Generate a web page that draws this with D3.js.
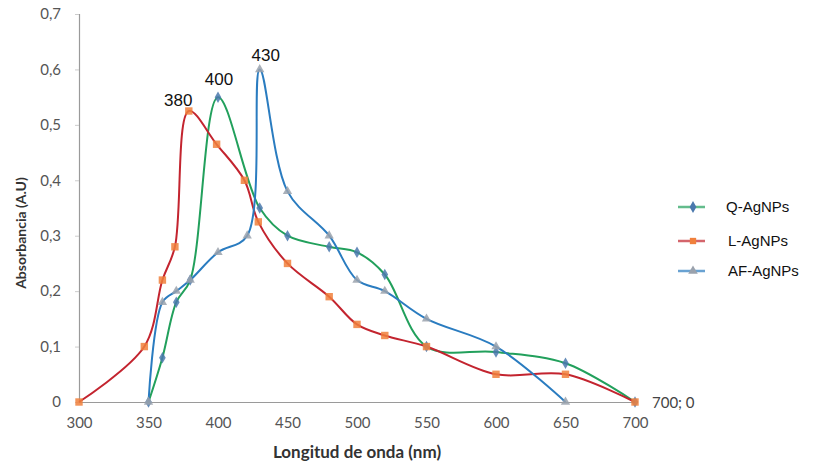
<!DOCTYPE html>
<html>
<head>
<meta charset="utf-8">
<script src="https://cdn.jsdelivr.net/npm/d3@7"></script>
<style>
  body { margin:0; background:#fff; }
  svg { display:block; }
</style>
</head>
<body>
<svg id="chart" width="816" height="463"></svg>
<script>
// data
const qWave = [350, 360, 370, 380, 400, 430, 450, 480, 500, 520, 550, 600, 650, 700];
const qAbs  = [0, 0.08, 0.18, 0.22, 0.55, 0.35, 0.30, 0.28, 0.27, 0.23, 0.10, 0.09, 0.07, 0];
const lWave = [300, 347, 360, 369, 379, 399, 419, 429, 450, 480, 500, 520, 550, 600, 650, 700];
const lAbs  = [0, 0.10, 0.22, 0.28, 0.525, 0.465, 0.40, 0.325, 0.25, 0.19, 0.14, 0.12, 0.10, 0.05, 0.05, 0];
const afWave = [350, 360, 370, 380, 400, 421, 430, 450, 480, 500, 520, 550, 600, 650];
const afAbs  = [0, 0.18, 0.20, 0.22, 0.27, 0.30, 0.60, 0.38, 0.30, 0.22, 0.20, 0.15, 0.10, 0];
const xTicks = [300, 350, 400, 450, 500, 550, 600, 650, 700];
const yTicks = [0, 0.1, 0.2, 0.3, 0.4, 0.5, 0.6, 0.7];
const peakLabels = [
    { key:"L", wave:380, abs:0.525, text:"380" },
    { key:"Q", wave:400, abs:0.55, text:"400" },
    { key:"AF", wave:430, abs:0.60, text:"430" }
];

const series = [
    { key:"Q", name:"Q-AgNPs", line:"#22a05c", marker:"#4a78ad", shape:d3.symbolDiamond, xs:qWave, ys:qAbs },
    { key:"L", name:"L-AgNPs", line:"#c3242f", marker:"#f0803c", shape:d3.symbolSquare, xs:lWave, ys:lAbs },
    { key:"AF", name:"AF-AgNPs", line:"#2a7cc0", marker:"#9aa2ad", shape:d3.symbolTriangle, xs:afWave, ys:afAbs }
];
// label offsets (px) from the peak point
const peakOffset = { L:[-12, -5], Q:[1, -12], AF:[6, -8] };

const svg = d3.select("#chart");
const margin = { left:79, top:14, right:181, bottom:61 };
const width = 816 - margin.left - margin.right;
const height = 463 - margin.top - margin.bottom;
const tickFont = "Lato, 'Open Sans', sans-serif";

const x = d3.scaleLinear().domain([300, 700]).range([0, width]);
const y = d3.scaleLinear().domain([0, 0.7]).range([height, 0]);

const g = svg.append("g").attr("transform", `translate(${margin.left},${margin.top})`);

const fmt = d => d === 0 ? "0" : d3.format(".1f")(d).replace(".", ",");

//axes
const yAxis = g.append("g")
    .call(d3.axisLeft(y).tickValues(yTicks).tickFormat(fmt).tickSize(4).tickPadding(14));
const xAxis = g.append("g")
    .attr("transform", `translate(0,${height})`)
    .call(d3.axisBottom(x).tickValues(xTicks).tickFormat(d3.format("d")).tickSize(0).tickPadding(15));

[yAxis, xAxis].forEach(a => {
    a.select(".domain").attr("stroke", "#9a9a9a").attr("stroke-width", 1.2);
    a.selectAll(".tick line").attr("stroke", "#ccc");
    a.selectAll(".tick text")
        .attr("fill", "#555")
        .style("font-family", tickFont)
        .style("font-size", "15px");
});

//lines
const line = d3.line()
    .x(d => x(d[0]))
    .y(d => y(d[1]))
    .curve(d3.curveCatmullRom.alpha(0.5));

series.forEach(s => {
    const pts = s.xs.map((v, i) => [v, s.ys[i]]);
    g.append("path")
        .datum(pts)
        .attr("fill", "none")
        .attr("stroke", s.line)
        .attr("stroke-width", 2)
        .attr("d", line);
});

series.forEach(s => {
    const pts = s.xs.map((v, i) => [v, s.ys[i]]);
    g.selectAll(`path.m-${s.key}`).data(pts)
        .join("path")
            .attr("class", `m-${s.key}`)
            .attr("transform", d => `translate(${x(d[0])},${y(d[1])})`)
            .attr("d", d3.symbol().type(s.shape).size(s.key === "L" ? 55 : 38))
            .attr("fill", s.marker)
            .attr("opacity", 0.85);
});

//peak annotations
g.selectAll("text.peak").data(peakLabels)
    .join("text")
        .attr("class", "peak")
        .attr("x", d => x(d.wave) + peakOffset[d.key][0])
        .attr("y", d => y(d.abs) + peakOffset[d.key][1])
        .attr("text-anchor", "middle")
        .attr("font-family", "'Liberation Sans', Arial, sans-serif")
        .attr("font-size", 17)
        .attr("fill", "#111")
        .text(d => d.text);

g.append("text")
    .attr("x", x(700) + 17)
    .attr("y", y(0) + 6)
    .attr("font-family", tickFont)
    .attr("font-size", 15)
    .attr("fill", "#444")
    .text("700; 0");

//axis titles
svg.append("text")
    .attr("x", 357)
    .attr("y", 458)
    .attr("text-anchor", "middle")
    .attr("font-family", tickFont)
    .attr("font-weight", "bold")
    .attr("font-size", 17)
    .attr("fill", "#333")
    .text("Longitud de onda (nm)");

svg.append("text")
    .attr("transform", `translate(26,233) rotate(-90)`)
    .attr("text-anchor", "middle")
    .attr("font-family", tickFont)
    .attr("font-weight", "bold")
    .attr("font-size", 14)
    .attr("fill", "#333")
    .text("Absorbancia (A.U)");

//legend
const legendYs = [207, 241, 271];
const legend = svg.selectAll("g.legend").data(series)
    .join("g")
        .attr("class", "legend")
        .attr("transform", (d, i) => `translate(678,${legendYs[i]})`);
legend.append("line")
    .attr("x1", 0).attr("x2", 27)
    .attr("stroke", d => d.line)
    .attr("stroke-width", 2.5)
    .attr("opacity", 0.7);
legend.append("path")
    .attr("transform", "translate(15,0)")
    .attr("d", d => d3.symbol().type(d.shape).size(40)())
    .attr("fill", d => d.marker);
legend.append("text")
    .attr("x", (d, i) => i === 0 ? 48 : 50)
    .attr("y", 5)
    .attr("font-family", "'Liberation Sans', Arial, sans-serif")
    .attr("font-size", 15)
    .attr("fill", "#111")
    .text(d => d.name);
</script>
</body>
</html>
